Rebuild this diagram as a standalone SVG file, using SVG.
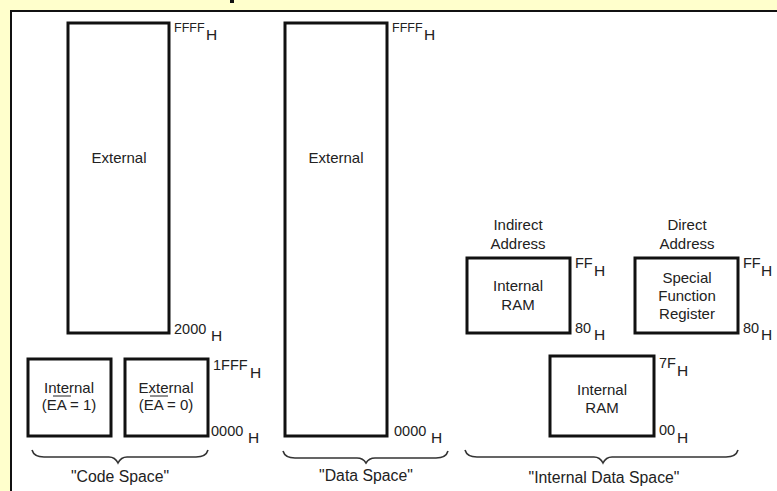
<svg xmlns="http://www.w3.org/2000/svg" width="777" height="491" viewBox="0 0 777 491">
<style>
.box{fill:#fff;stroke:#111;stroke-width:3}
.t{font-family:"Liberation Sans",Arial,sans-serif;font-size:15px;fill:#222;text-anchor:middle}
.l{font-family:"Liberation Sans",Arial,sans-serif;font-size:15.8px;fill:#222;text-anchor:middle}
.n{font-family:"Liberation Sans",Arial,sans-serif;font-size:14.5px;fill:#222}
.s{font-family:"Liberation Sans",Arial,sans-serif;font-size:12.5px;fill:#222}
.h{font-family:"Liberation Sans",Arial,sans-serif;font-size:15.5px;fill:#222}
.brace{fill:none;stroke:#333;stroke-width:1.6}
</style>
<rect x="0" y="0" width="777" height="491" fill="#FFFFCC"/>
<rect x="230" y="0" width="4" height="3" fill="#111"/>
<rect x="11" y="11" width="790" height="500" fill="#fff" stroke="#111" stroke-width="2"/>

<g id="code-external">
<rect class="box" x="68" y="23" width="101" height="310"/>
<text class="t" x="119" y="163">External</text>
<text class="s" x="174" y="32">FFFF</text><text class="h" x="206" y="40">H</text>
<text class="n" x="174" y="334">2000</text><text class="h" x="211" y="341">H</text>
</g>
<g id="code-internal">
<rect class="box" x="28" y="359" width="83" height="77"/>
<text class="t" x="69" y="393">Internal</text>
<text class="t" x="69" y="410">(EA = 1)</text>
<line x1="53" y1="396" x2="71" y2="396" stroke="#222" stroke-width="1"/>
</g>
<g id="code-external-ea0">
<rect class="box" x="125" y="359" width="83" height="77"/>
<text class="t" x="166" y="393">External</text>
<text class="t" x="166" y="410">(EA = 0)</text>
<line x1="150" y1="396" x2="168" y2="396" stroke="#222" stroke-width="1"/>
<text class="n" x="213" y="370">1FFF</text><text class="h" x="250" y="378">H</text>
<text class="n" x="211" y="436">0000</text><text class="h" x="248" y="443">H</text>
</g>
<g id="data-external">
<rect class="box" x="285" y="23" width="102" height="413"/>
<text class="t" x="336" y="163">External</text>
<text class="s" x="392" y="32">FFFF</text><text class="h" x="424" y="40">H</text>
<text class="n" x="394" y="436">0000</text><text class="h" x="431" y="443">H</text>
</g>
<g id="indirect-ram">
<text class="t" x="518" y="230">Indirect</text>
<text class="t" x="518" y="249">Address</text>
<rect class="box" x="467" y="258" width="103" height="75"/>
<text class="t" x="518" y="291">Internal</text>
<text class="t" x="518" y="310">RAM</text>
<text class="n" x="575" y="268">FF</text><text class="h" x="594" y="276">H</text>
<text class="n" x="575" y="333">80</text><text class="h" x="594" y="340">H</text>
</g>
<g id="sfr">
<text class="t" x="687" y="230">Direct</text>
<text class="t" x="687" y="249">Address</text>
<rect class="box" x="635" y="258" width="103" height="75"/>
<text class="t" x="687" y="283">Special</text>
<text class="t" x="687" y="301">Function</text>
<text class="t" x="687" y="319">Register</text>
<text class="n" x="743" y="268">FF</text><text class="h" x="761" y="276">H</text>
<text class="n" x="743" y="333">80</text><text class="h" x="761" y="340">H</text>
</g>
<g id="lower-ram">
<rect class="box" x="550" y="356" width="104" height="80"/>
<text class="t" x="602" y="395">Internal</text>
<text class="t" x="602" y="413">RAM</text>
<text class="n" x="659" y="368">7F</text><text class="h" x="677" y="376">H</text>
<text class="n" x="659" y="435">00</text><text class="h" x="677" y="443">H</text>
</g>
<g id="connectors">
<path class="brace" d="M32,450 Q34,457 44,457 L109,457 Q115,457 118,463 Q121,457 127,457 L196,457 Q206,457 208,450"/>
<path class="brace" d="M283,451 Q285,458 295,458 L357,458 Q363,458 366,463 Q369,458 375,458 L436,458 Q446,458 448,451"/>
<path class="brace" d="M465,450 Q467,457 477,457 L594,457 Q600,457 603,463 Q606,457 612,457 L726,457 Q736,457 738,450"/>
</g>
<g id="labels">
<text class="l" x="120" y="482">"Code Space"</text>
<text class="l" x="366" y="481">"Data Space"</text>
<text class="l" x="604" y="483">"Internal Data Space"</text>
</g>
</svg>
